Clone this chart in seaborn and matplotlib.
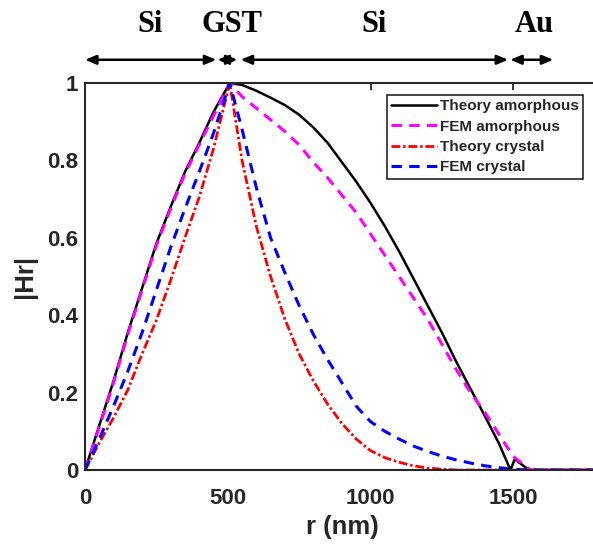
import matplotlib
matplotlib.use("Agg")
import matplotlib.pyplot as plt
import matplotlib.transforms as mtransforms
import pandas as pd
import seaborn as sns

# radial positions (nm) and |Hr|
r_theory_am = [0, 50, 100, 150, 200, 250, 300, 350, 400, 450, 507, 550, 600, 650, 700,
               750, 800, 850, 900, 950, 1000, 1050, 1100, 1150, 1200, 1250, 1300, 1350,
               1400, 1450, 1490, 1505, 1555, 1650, 1800]
hr_theory_am = [0, 0.115, 0.23, 0.355, 0.47, 0.585, 0.68, 0.77, 0.845, 0.925, 1.0, 0.995,
                0.98, 0.962, 0.943, 0.918, 0.885, 0.845, 0.795, 0.745, 0.69, 0.63, 0.565,
                0.495, 0.425, 0.355, 0.28, 0.21, 0.14, 0.068, 0.0, 0.028, 0.0, 0.0, 0.0]

r_fem_am = [0, 50, 100, 150, 200, 250, 300, 350, 400, 450, 507, 550, 600, 650, 700, 750,
            800, 850, 900, 950, 1000, 1050, 1100, 1150, 1200, 1250, 1300, 1350, 1400, 1450,
            1500, 1560, 1650, 1800]
hr_fem_am = [0, 0.11, 0.225, 0.35, 0.465, 0.58, 0.675, 0.765, 0.84, 0.915, 1.0, 0.965,
             0.935, 0.905, 0.875, 0.84, 0.795, 0.755, 0.71, 0.665, 0.61, 0.555, 0.5, 0.445,
             0.39, 0.325, 0.26, 0.2, 0.15, 0.092, 0.035, 0.0, 0.0, 0.0]

r_theory_cr = [0, 50, 100, 150, 200, 250, 300, 350, 400, 450, 507, 550, 600, 650, 700, 750,
               800, 850, 900, 950, 1000, 1050, 1100, 1150, 1200, 1250, 1300, 1500, 1800]
hr_theory_cr = [0, 0.07, 0.135, 0.207, 0.3, 0.387, 0.49, 0.6, 0.705, 0.83, 1.0, 0.8, 0.63,
                0.5, 0.39, 0.3, 0.23, 0.17, 0.12, 0.08, 0.05, 0.032, 0.02, 0.011, 0.005,
                0.002, 0.0, 0.0, 0.0]

r_fem_cr = [0, 50, 100, 150, 200, 250, 300, 350, 400, 450, 507, 550, 600, 650, 700, 750,
            800, 850, 900, 950, 1000, 1050, 1100, 1150, 1200, 1250, 1300, 1350, 1400, 1450,
            1500, 1550, 1700, 1800]
hr_fem_cr = [0, 0.08, 0.165, 0.255, 0.355, 0.465, 0.575, 0.675, 0.77, 0.87, 1.0, 0.88,
             0.73, 0.6, 0.51, 0.425, 0.35, 0.285, 0.225, 0.165, 0.125, 0.1, 0.08, 0.062,
             0.048, 0.036, 0.026, 0.018, 0.011, 0.006, 0.002, 0.0, 0.0, 0.0]

series_names = ["Theory amorphous", "FEM amorphous", "Theory crystal", "FEM crystal"]
series_r = [r_theory_am, r_fem_am, r_theory_cr, r_fem_cr]
series_hr = [hr_theory_am, hr_fem_am, hr_theory_cr, hr_fem_cr]

# layer regions along r (nm) shown above the plot
region_names = ["Si", "GST", "Si", "Au"]
region_bounds = [(0, 460), (464, 534), (545, 1482), (1489, 1640)]
region_label_x = [228, 515, 1013, 1573]

sns.set_theme(style="white")
plt.rcParams["font.family"] = ["Liberation Sans", "DejaVu Sans"]
ink = "#262626"

fig = plt.figure(figsize=(5.93, 5.45), dpi=100)
# axes run past the right edge of the canvas, as in the cropped reference
ax = fig.add_axes([0.1433, 0.1376, 0.8668, 0.7101])

styles = {
    "Theory amorphous": dict(color="black", lw=1.8, ls="-"),
    "FEM amorphous": dict(color="#ff00ff", lw=2.2, ls=(0, (3.4, 2.4))),
    "Theory crystal": dict(color="#ff0000", lw=2.0, ls=(0, (3.2, 1.0, 0.9, 1.0))),
    "FEM crystal": dict(color="#0000ff", lw=2.2, ls=(0, (3.4, 2.4))),
}

for name, r, hr in zip(series_names, series_r, series_hr):
    df = pd.DataFrame({"r": r, "hr": hr})
    st = styles[name]
    sns.lineplot(data=df, x="r", y="hr", ax=ax, color=st["color"], linewidth=st["lw"],
                 linestyle=st["ls"], label=name, sort=False)

ax.set_xlim(0, 1800)
ax.set_ylim(0, 1)
ax.set_xticks([0, 500, 1000, 1500])
ax.set_yticks([0, 0.2, 0.4, 0.6, 0.8, 1.0])
ax.set_yticklabels(["0", "0.2", "0.4", "0.6", "0.8", "1"])
ax.tick_params(direction="in", length=5, width=1.3, top=True, right=False, colors=ink,
               labelsize=16)
ax.tick_params(axis="x", pad=13)
ax.tick_params(axis="y", pad=5)
for lbl in ax.get_xticklabels() + ax.get_yticklabels():
    lbl.set_fontweight("bold")
for side in ["left", "bottom", "top", "right"]:
    ax.spines[side].set_color(ink)
    ax.spines[side].set_linewidth(1.5)

ax.set_xlabel("r (nm)", fontsize=18.5, fontweight="bold", color=ink, labelpad=4)
ax.set_ylabel("|Hr|", fontsize=18.5, fontweight="bold", color=ink, labelpad=7)

leg = ax.legend(loc="upper right", bbox_to_anchor=(0.969, 0.97), borderaxespad=0,
                fontsize=11, handlelength=3.0, handletextpad=0.15, labelspacing=0.42,
                borderpad=0.3, fancybox=False, framealpha=1)
leg.get_frame().set_edgecolor(ink)
leg.get_frame().set_linewidth(1.2)
for t in leg.get_texts():
    t.set_fontweight("bold")

# layer arrows and labels above the axes
trans = mtransforms.blended_transform_factory(ax.transData, ax.transAxes)
for name, (a, b), lx in zip(region_names, region_bounds, region_label_x):
    ax.annotate("", xy=(a, 1.06), xytext=(b, 1.06), xycoords=trans, textcoords=trans,
                arrowprops=dict(arrowstyle="<|-|>,head_length=0.6,head_width=0.25",
                                color="black", lw=1.8, mutation_scale=11,
                                shrinkA=0, shrinkB=0),
                annotation_clip=False)
    ax.text(lx, 1.15, name, transform=trans, ha="center", va="center",
            fontsize=22, fontweight="bold", family=["Liberation Serif", "DejaVu Serif"],
            color="black", clip_on=False)

fig.savefig("out.png", dpi=100)
